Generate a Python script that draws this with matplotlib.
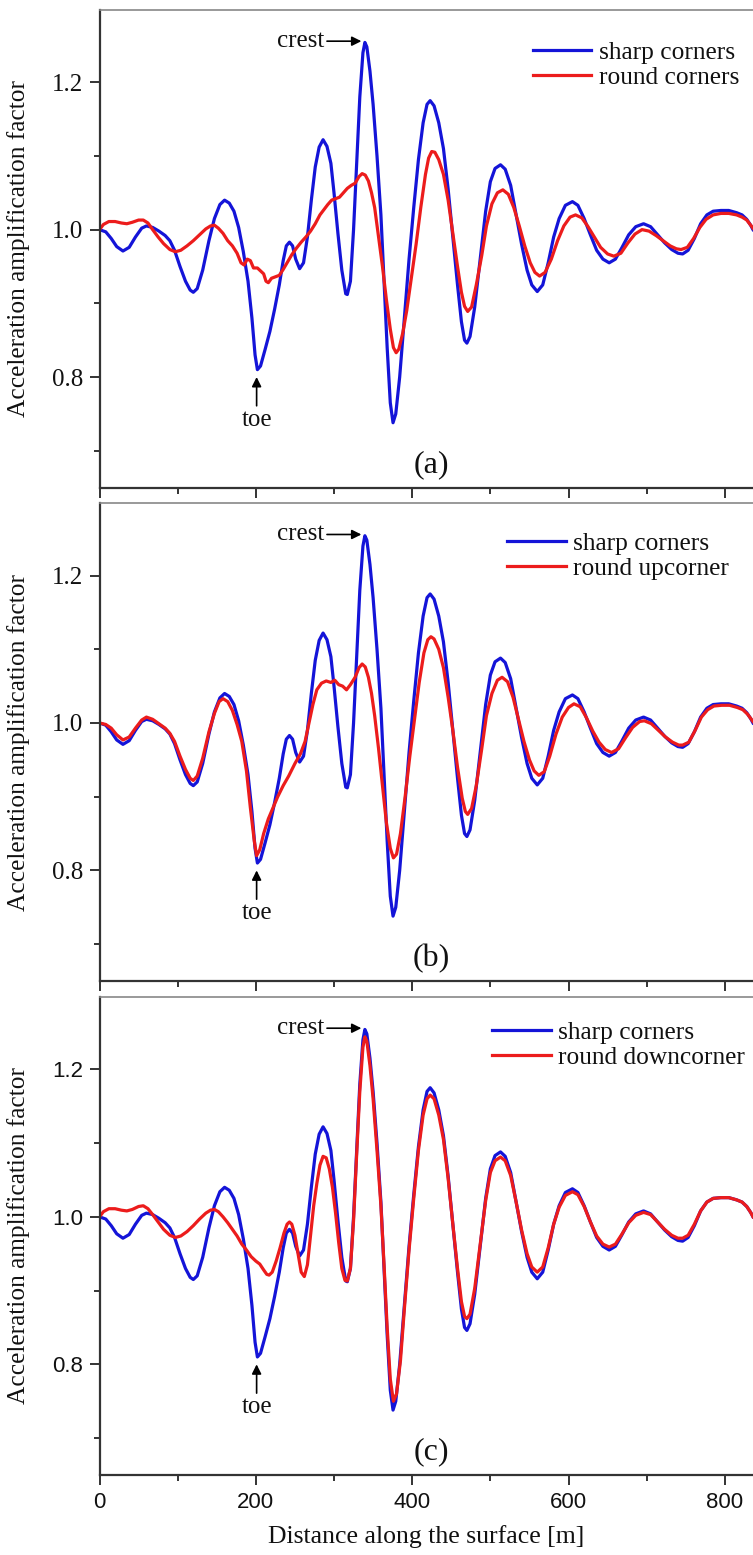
import matplotlib
matplotlib.use("Agg")
import matplotlib.pyplot as plt
from matplotlib.ticker import FixedLocator, FormatStrFormatter

# ---------------- data ----------------
blue_x = [0, 8, 15, 22, 30, 38, 46, 54, 60, 68,
          76, 84, 90, 96, 103, 110, 116, 120, 125, 132,
          140, 147, 154, 160, 166, 172, 178, 184, 190, 195,
          199, 202, 206, 212, 218, 224, 230, 235, 239, 243,
          247, 251, 256, 261, 266, 271, 276, 281, 286, 291,
          296, 300, 305, 310, 315, 317, 321, 325, 329, 333,
          337, 339.5, 342, 346, 350, 355, 360, 364, 368, 372,
          375.5, 379, 384, 390, 396, 402, 408, 414, 419, 423,
          428, 434, 440, 446, 452, 458, 463, 467, 470, 474,
          480, 487, 494, 500, 506, 513, 519, 526, 533, 540,
          547, 553, 560, 567, 574, 581, 588, 596, 605, 612,
          620, 628, 636, 644, 652, 660, 668, 677, 686, 696,
          705, 714, 723, 732, 740, 746, 753, 761, 769, 777,
          785, 795, 805, 815, 822, 828, 833, 836]
blue_y = [1.000, 0.997, 0.988, 0.977, 0.971, 0.976, 0.990, 1.002, 1.005, 1.003,
          0.998, 0.992, 0.985, 0.972, 0.950, 0.930, 0.918, 0.915, 0.920, 0.945,
          0.985, 1.015, 1.034, 1.040, 1.036, 1.025, 1.003, 0.970, 0.930, 0.880,
          0.830, 0.810, 0.815, 0.838, 0.862, 0.892, 0.925, 0.958, 0.978, 0.983,
          0.978, 0.960, 0.947, 0.955, 0.990, 1.040, 1.085, 1.112, 1.122, 1.113,
          1.090, 1.050, 0.995, 0.945, 0.913, 0.912, 0.930, 1.000, 1.090, 1.180,
          1.240, 1.254, 1.248, 1.215, 1.170, 1.100, 1.020, 0.930, 0.840, 0.765,
          0.738, 0.750, 0.800, 0.880, 0.960, 1.030, 1.095, 1.145, 1.170, 1.175,
          1.168, 1.145, 1.110, 1.055, 0.990, 0.925, 0.875, 0.850, 0.846, 0.855,
          0.895, 0.960, 1.025, 1.065, 1.083, 1.088, 1.082, 1.060, 1.020, 0.980,
          0.945, 0.925, 0.916, 0.925, 0.955, 0.990, 1.015, 1.033, 1.038, 1.033,
          1.015, 0.993, 0.972, 0.960, 0.955, 0.960, 0.975, 0.993, 1.004, 1.008,
          1.004, 0.993, 0.982, 0.973, 0.968, 0.967, 0.972, 0.988, 1.008, 1.020,
          1.025, 1.026, 1.026, 1.023, 1.020, 1.014, 1.006, 1.000]

red_a_x = [0, 5, 12, 20, 28, 35, 42, 50, 56, 62,
           68, 75, 82, 90, 97, 104, 112, 120, 128, 136,
           142, 147, 152, 158, 164, 170, 176, 181, 185, 189,
           193, 197, 202, 206, 210, 213, 216, 220, 225, 230,
           235, 240, 246, 252, 258, 264, 270, 276, 282, 287,
           292, 297, 302, 307, 312, 317, 322, 327, 332, 336,
           340, 344, 348, 352, 357, 362, 367, 372, 376, 379.5,
           383, 388, 393, 399, 405, 411, 417, 421, 425, 429,
           434, 440, 446, 452, 458, 463, 467, 471, 476, 482,
           489, 495, 502, 509, 516, 523, 530, 537, 544, 551,
           557, 563, 570, 578, 586, 594, 602, 609, 617, 625,
           633, 641, 650, 658, 667, 676, 685, 694, 703, 712,
           721, 730, 738, 744, 752, 760, 768, 776, 785, 795,
           805, 815, 822, 828, 833, 836]
red_a_y = [1.000, 1.007, 1.011, 1.011, 1.009, 1.008, 1.010, 1.013, 1.013, 1.009,
           1.000, 0.990, 0.981, 0.973, 0.970, 0.972, 0.978, 0.985, 0.993, 1.001,
           1.005, 1.006, 1.002, 0.995, 0.985, 0.978, 0.968, 0.955, 0.952, 0.960,
           0.958, 0.948, 0.948, 0.944, 0.940, 0.930, 0.928, 0.934, 0.936, 0.938,
           0.946, 0.955, 0.966, 0.975, 0.983, 0.990, 0.998, 1.008, 1.020, 1.027,
           1.034, 1.040, 1.042, 1.044, 1.050, 1.056, 1.060, 1.063, 1.072, 1.076,
           1.074, 1.066, 1.050, 1.030, 0.990, 0.950, 0.905, 0.865, 0.840, 0.833,
           0.838, 0.860, 0.890, 0.935, 0.980, 1.030, 1.075, 1.097, 1.106, 1.105,
           1.095, 1.075, 1.040, 0.995, 0.950, 0.915, 0.896, 0.889, 0.895, 0.925,
           0.965, 1.005, 1.035, 1.050, 1.054, 1.048, 1.030, 1.005, 0.978, 0.955,
           0.942, 0.937, 0.942, 0.960, 0.985, 1.005, 1.017, 1.020, 1.016, 1.004,
           0.990, 0.976, 0.967, 0.964, 0.968, 0.982, 0.994, 1.000, 0.998, 0.992,
           0.985, 0.978, 0.974, 0.973, 0.976, 0.988, 1.003, 1.014, 1.020, 1.022,
           1.022, 1.020, 1.017, 1.013, 1.006, 1.002]

red_b_x = [0, 8, 15, 22, 30, 38, 46, 54, 60, 68,
           76, 84, 90, 96, 103, 110, 116, 120, 125, 132,
           140, 147, 153, 158, 164, 170, 176, 182, 188, 193,
           198, 201, 205, 210, 216, 222, 228, 235, 242, 250,
           257, 263, 268, 273, 278, 284, 290, 296, 301, 306,
           311, 316, 321, 327, 332, 336, 340, 344, 348, 352,
           357, 362, 367, 372, 376, 380, 385, 391, 397, 403,
           409, 415, 420, 424, 428, 434, 440, 446, 452, 458,
           464, 468, 471, 476, 482, 489, 495, 502, 509, 515,
           522, 529, 536, 543, 550, 556, 562, 569, 576, 584,
           592, 600, 607, 615, 623, 631, 639, 647, 655, 664,
           673, 682, 691, 697, 706, 715, 724, 733, 741, 746,
           754, 762, 770, 778, 786, 796, 806, 816, 823, 829,
           834, 836]
red_b_y = [1.000, 0.998, 0.993, 0.984, 0.977, 0.981, 0.993, 1.004, 1.008, 1.005,
           0.999, 0.993, 0.986, 0.975, 0.955, 0.937, 0.925, 0.922, 0.928, 0.952,
           0.988, 1.013, 1.029, 1.033, 1.029, 1.017, 0.998, 0.975, 0.935, 0.885,
           0.840, 0.820, 0.828, 0.850, 0.870, 0.885, 0.900, 0.915, 0.928, 0.945,
           0.958, 0.975, 1.000, 1.025, 1.045, 1.054, 1.057, 1.055, 1.058, 1.052,
           1.050, 1.045, 1.052, 1.062, 1.075, 1.080, 1.076, 1.062, 1.040, 1.010,
           0.965, 0.915, 0.865, 0.830, 0.817, 0.822, 0.850, 0.900, 0.955, 1.005,
           1.055, 1.095, 1.113, 1.117, 1.114, 1.100, 1.075, 1.035, 0.990, 0.940,
           0.898, 0.880, 0.876, 0.884, 0.915, 0.965, 1.010, 1.040, 1.058, 1.062,
           1.056, 1.035, 1.005, 0.975, 0.950, 0.935, 0.929, 0.934, 0.955, 0.985,
           1.008, 1.021, 1.026, 1.022, 1.007, 0.989, 0.974, 0.964, 0.960, 0.965,
           0.980, 0.994, 1.002, 1.003, 0.999, 0.990, 0.981, 0.974, 0.970, 0.970,
           0.974, 0.990, 1.008, 1.018, 1.023, 1.024, 1.024, 1.021, 1.018, 1.012,
           1.005, 1.002]

red_c_x = [0, 5, 12, 20, 28, 35, 42, 50, 56, 62,
           68, 75, 82, 90, 97, 104, 112, 120, 128, 136,
           142, 147, 152, 158, 164, 170, 176, 182, 188, 194,
           200, 205, 210, 214, 217, 221, 226, 231, 236, 240,
           243, 246, 250, 254, 258, 262, 266, 270, 274, 278,
           282, 286, 290, 294, 298, 302, 306, 310, 314, 317,
           321, 325, 329, 333, 337, 339.5, 342, 346, 350, 355,
           360, 364, 368, 372, 376, 380, 385, 390, 396, 402,
           408, 414, 419, 423, 428, 434, 440, 446, 452, 458,
           463, 467, 470, 474, 480, 487, 494, 500, 506, 513,
           519, 526, 533, 540, 547, 553, 560, 567, 574, 581,
           588, 596, 605, 612, 620, 628, 636, 644, 652, 660,
           668, 677, 686, 696, 705, 714, 723, 732, 740, 746,
           753, 761, 769, 777, 785, 795, 805, 815, 822, 828,
           833, 836]
red_c_y = [1.000, 1.007, 1.011, 1.011, 1.009, 1.008, 1.010, 1.014, 1.015, 1.011,
           1.003, 0.993, 0.983, 0.975, 0.972, 0.974, 0.980, 0.988, 0.997, 1.005,
           1.009, 1.010, 1.007, 1.000, 0.992, 0.983, 0.974, 0.963, 0.955, 0.946,
           0.940, 0.936, 0.928, 0.922, 0.921, 0.925, 0.940, 0.958, 0.978, 0.990,
           0.993, 0.990, 0.975, 0.950, 0.925, 0.919, 0.935, 0.975, 1.015, 1.045,
           1.070, 1.082, 1.080, 1.065, 1.040, 1.005, 0.965, 0.930, 0.914, 0.913,
           0.930, 0.995, 1.085, 1.170, 1.230, 1.244, 1.238, 1.205, 1.160, 1.090,
           1.015, 0.935, 0.850, 0.780, 0.750, 0.760, 0.805, 0.875, 0.955, 1.025,
           1.090, 1.138, 1.160, 1.165, 1.160, 1.138, 1.105, 1.052, 0.990, 0.930,
           0.885, 0.865, 0.862, 0.868, 0.903, 0.963, 1.022, 1.060, 1.076, 1.081,
           1.076, 1.056, 1.020, 0.982, 0.950, 0.932, 0.925, 0.932, 0.958, 0.990,
           1.013, 1.029, 1.034, 1.030, 1.014, 0.993, 0.974, 0.963, 0.959, 0.963,
           0.976, 0.992, 1.002, 1.006, 1.003, 0.993, 0.983, 0.975, 0.971, 0.971,
           0.975, 0.990, 1.008, 1.020, 1.025, 1.026, 1.026, 1.023, 1.020, 1.014,
           1.006, 1.000]

red_series = [(red_a_x, red_a_y), (red_b_x, red_b_y), (red_c_x, red_c_y)]
red_labels = ["round corners", "round upcorner", "round downcorner"]
blue_label = "sharp corners"
panel_tags = ["(a)", "(b)", "(c)"]
x_major = [0, 200, 400, 600, 800]
x_minor = [100, 300, 500, 700]
y_major = [0.8, 1.0, 1.2]
y_minor = [0.7, 0.9, 1.1]

# ---------------- style ----------------
SERIF = ["Liberation Serif", "DejaVu Serif"]
SANS = ["Liberation Sans", "DejaVu Sans"]
BLUE = "#1414d8"
RED = "#ec1c1c"
SPINE = "#333333"

W, H = 753, 1555
fig = plt.figure(figsize=(W / 100, H / 100), dpi=100)

left = 99.5 / W
width = 1.0 - left
panels_px = [(10, 487.6), (503.3, 981.0), (997.0, 1475.0)]
legend_anchor = [(0.663, 0.935), (0.624, 0.940), (0.601, 0.950)]

for i, (top_px, bot_px) in enumerate(panels_px):
    ax = fig.add_axes([left, 1 - bot_px / H, width, (bot_px - top_px) / H])
    rx, ry = red_series[i]
    ax.plot(blue_x, blue_y, color=BLUE, lw=2.3, label=blue_label, solid_joinstyle="round")
    ax.plot(rx, ry, color=RED, lw=2.3, label=red_labels[i], solid_joinstyle="round")

    ax.set_xlim(0, 836)
    ax.set_ylim(0.65, 1.298)

    ax.xaxis.set_major_locator(FixedLocator(x_major))
    ax.xaxis.set_minor_locator(FixedLocator(x_minor))
    ax.yaxis.set_major_locator(FixedLocator(y_major))
    ax.yaxis.set_minor_locator(FixedLocator(y_minor))
    ax.yaxis.set_major_formatter(FormatStrFormatter("%.1f"))

    ax.spines["right"].set_visible(False)
    ax.spines["top"].set_color("#888888")
    ax.spines["top"].set_linewidth(1.2)
    for s in ("left", "bottom"):
        ax.spines[s].set_color(SPINE)
        ax.spines[s].set_linewidth(1.6)

    ax.tick_params(which="both", direction="out", colors=SPINE, top=False, right=False)
    ax.tick_params(which="major", length=7, width=1.4)
    ax.tick_params(which="minor", length=4, width=1.4)
    ax.tick_params(axis="both", which="major", labelcolor="#111111")

    if i < 2:
        ax.set_xticklabels([])
        for lab in ax.get_yticklabels():
            lab.set_fontfamily(SERIF)
            lab.set_fontsize(18)
    else:
        for lab in ax.get_yticklabels() + ax.get_xticklabels():
            lab.set_fontfamily(SANS)
            lab.set_fontsize(16)
        ax.tick_params(axis="x", which="major", pad=5)
        ax.set_xlabel("Distance along the surface [m]", family=SERIF, fontsize=18.5,
                      color="#111111", labelpad=9)
    ax.tick_params(axis="y", which="major", pad=5)

    ax.set_ylabel("Acceleration amplification factor", family=SERIF, fontsize=18.3,
                  color="#111111")
    ax.yaxis.set_label_coords(-0.107, 0.5)

    leg = ax.legend(loc="upper left", bbox_to_anchor=legend_anchor[i], frameon=False,
                    prop={"family": SERIF, "size": 18.3}, handlelength=2.3,
                    handletextpad=0.3, labelspacing=0.1, borderpad=0, borderaxespad=0)
    for t in leg.get_texts():
        t.set_color("#111111")

    # crest annotation
    ax.annotate("", xy=(335, 1.2557), xytext=(291, 1.2557),
                arrowprops=dict(arrowstyle="-|>", color="k", lw=1.2,
                                mutation_scale=14, shrinkA=0, shrinkB=0))
    ax.text(288, 1.2557, "crest", ha="right", va="center", family=SERIF,
            fontsize=18, color="#111111")
    # toe annotation
    ax.annotate("", xy=(201, 0.800), xytext=(201, 0.761),
                arrowprops=dict(arrowstyle="-|>", color="k", lw=1.2,
                                mutation_scale=14, shrinkA=0, shrinkB=0))
    ax.text(201, 0.742, "toe", ha="center", va="center", family=SERIF,
            fontsize=18, color="#111111")
    # panel tag
    ax.text(424, 0.681, panel_tags[i], ha="center", va="center", family=SERIF,
            fontsize=23, color="#111111")

fig.savefig("out.png", dpi=100)
